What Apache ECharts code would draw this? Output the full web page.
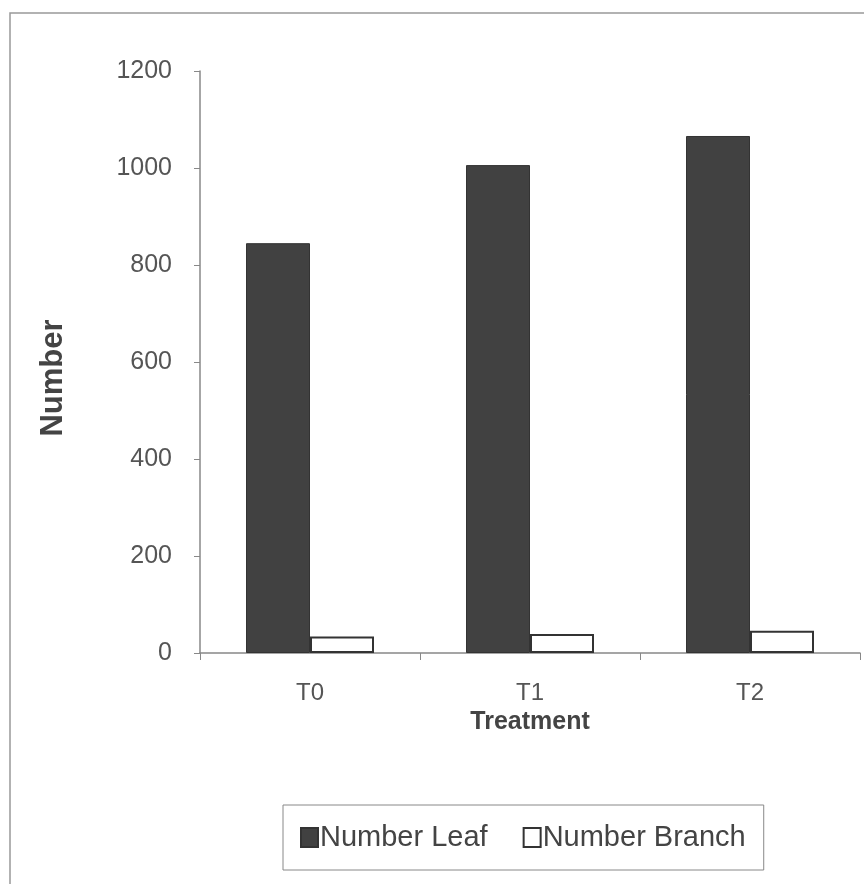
<!DOCTYPE html>
<html><head><meta charset="utf-8">
<script src="https://cdn.jsdelivr.net/npm/echarts@6/dist/echarts.min.js"></script>
<style>html,body{margin:0;padding:0;background:#fff}#c{width:864px;height:884px}</style>
</head><body><div id="c"></div>
<script>
const categories = ['T0', 'T1', 'T2'];
const leafValues = [845, 1006, 1066];
const branchValues = [34, 39, 46];
const yTicks = [0, 200, 400, 600, 800, 1000, 1200];
const legendNames = ['Number Leaf', 'Number Branch'];

const chart = echarts.init(document.getElementById('c'));
const font = '"Liberation Sans", Arial, sans-serif';
chart.setOption({
  animation: false,
  backgroundColor: '#fff',
  graphic: [{
    type: 'rect', shape: {x: 10, y: 13, width: 870, height: 890},
    style: {fill: 'none', stroke: '#999', lineWidth: 1.5}, z: -1
  }],
  grid: {left: 200, right: 4, top: 71, bottom: 231},
  legend: {
    left: 283, top: 805,
    padding: [18, 18, 18, 17],
    borderColor: '#888', borderWidth: 1, borderRadius: 0,
    itemWidth: 17, itemHeight: 19, itemGap: 35,
    icon: 'rect',
    textStyle: {fontFamily: font, fontSize: 29, color: '#444', padding: [0, 0, 0, -3]},
    data: [
      {name: legendNames[0], textStyle: {width: 185}},
      {name: legendNames[1], textStyle: {width: 213}}
    ]
  },
  xAxis: {
    type: 'category', data: categories,
    name: 'Treatment', nameLocation: 'middle', nameGap: 52,
    nameTextStyle: {fontFamily: font, fontSize: 25, fontWeight: 'bold', color: '#444'},
    axisLine: {lineStyle: {color: '#888', width: 1.5}},
    axisTick: {show: true, length: 7, lineStyle: {color: '#888'}},
    axisLabel: {fontFamily: font, fontSize: 24, color: '#555', margin: 28}
  },
  yAxis: {
    type: 'value', min: 0, max: 1200, interval: 200,
    name: 'Number', nameLocation: 'middle', nameGap: 131,
    nameTextStyle: {fontFamily: font, fontSize: 31, fontWeight: 'bold', color: '#444', padding: [0, 32, 0, 0]},
    axisLine: {show: true, lineStyle: {color: '#888', width: 1.5}},
    axisTick: {show: true, length: 6, lineStyle: {color: '#888'}},
    splitLine: {show: false},
    axisLabel: {fontFamily: font, fontSize: 25, color: '#555', margin: 28,
      formatter: v => yTicks.includes(v) ? String(v) : ''}
  },
  series: [{
    name: legendNames[0], type: 'bar', data: leafValues,
    barWidth: 64, barGap: '0%',
    itemStyle: {color: '#414141', borderColor: '#333', borderWidth: 1}
  }, {
    name: legendNames[1], type: 'bar', data: branchValues,
    barWidth: 64,
    itemStyle: {color: '#fff', borderColor: '#333', borderWidth: 2}
  }]
});
</script></body></html>
